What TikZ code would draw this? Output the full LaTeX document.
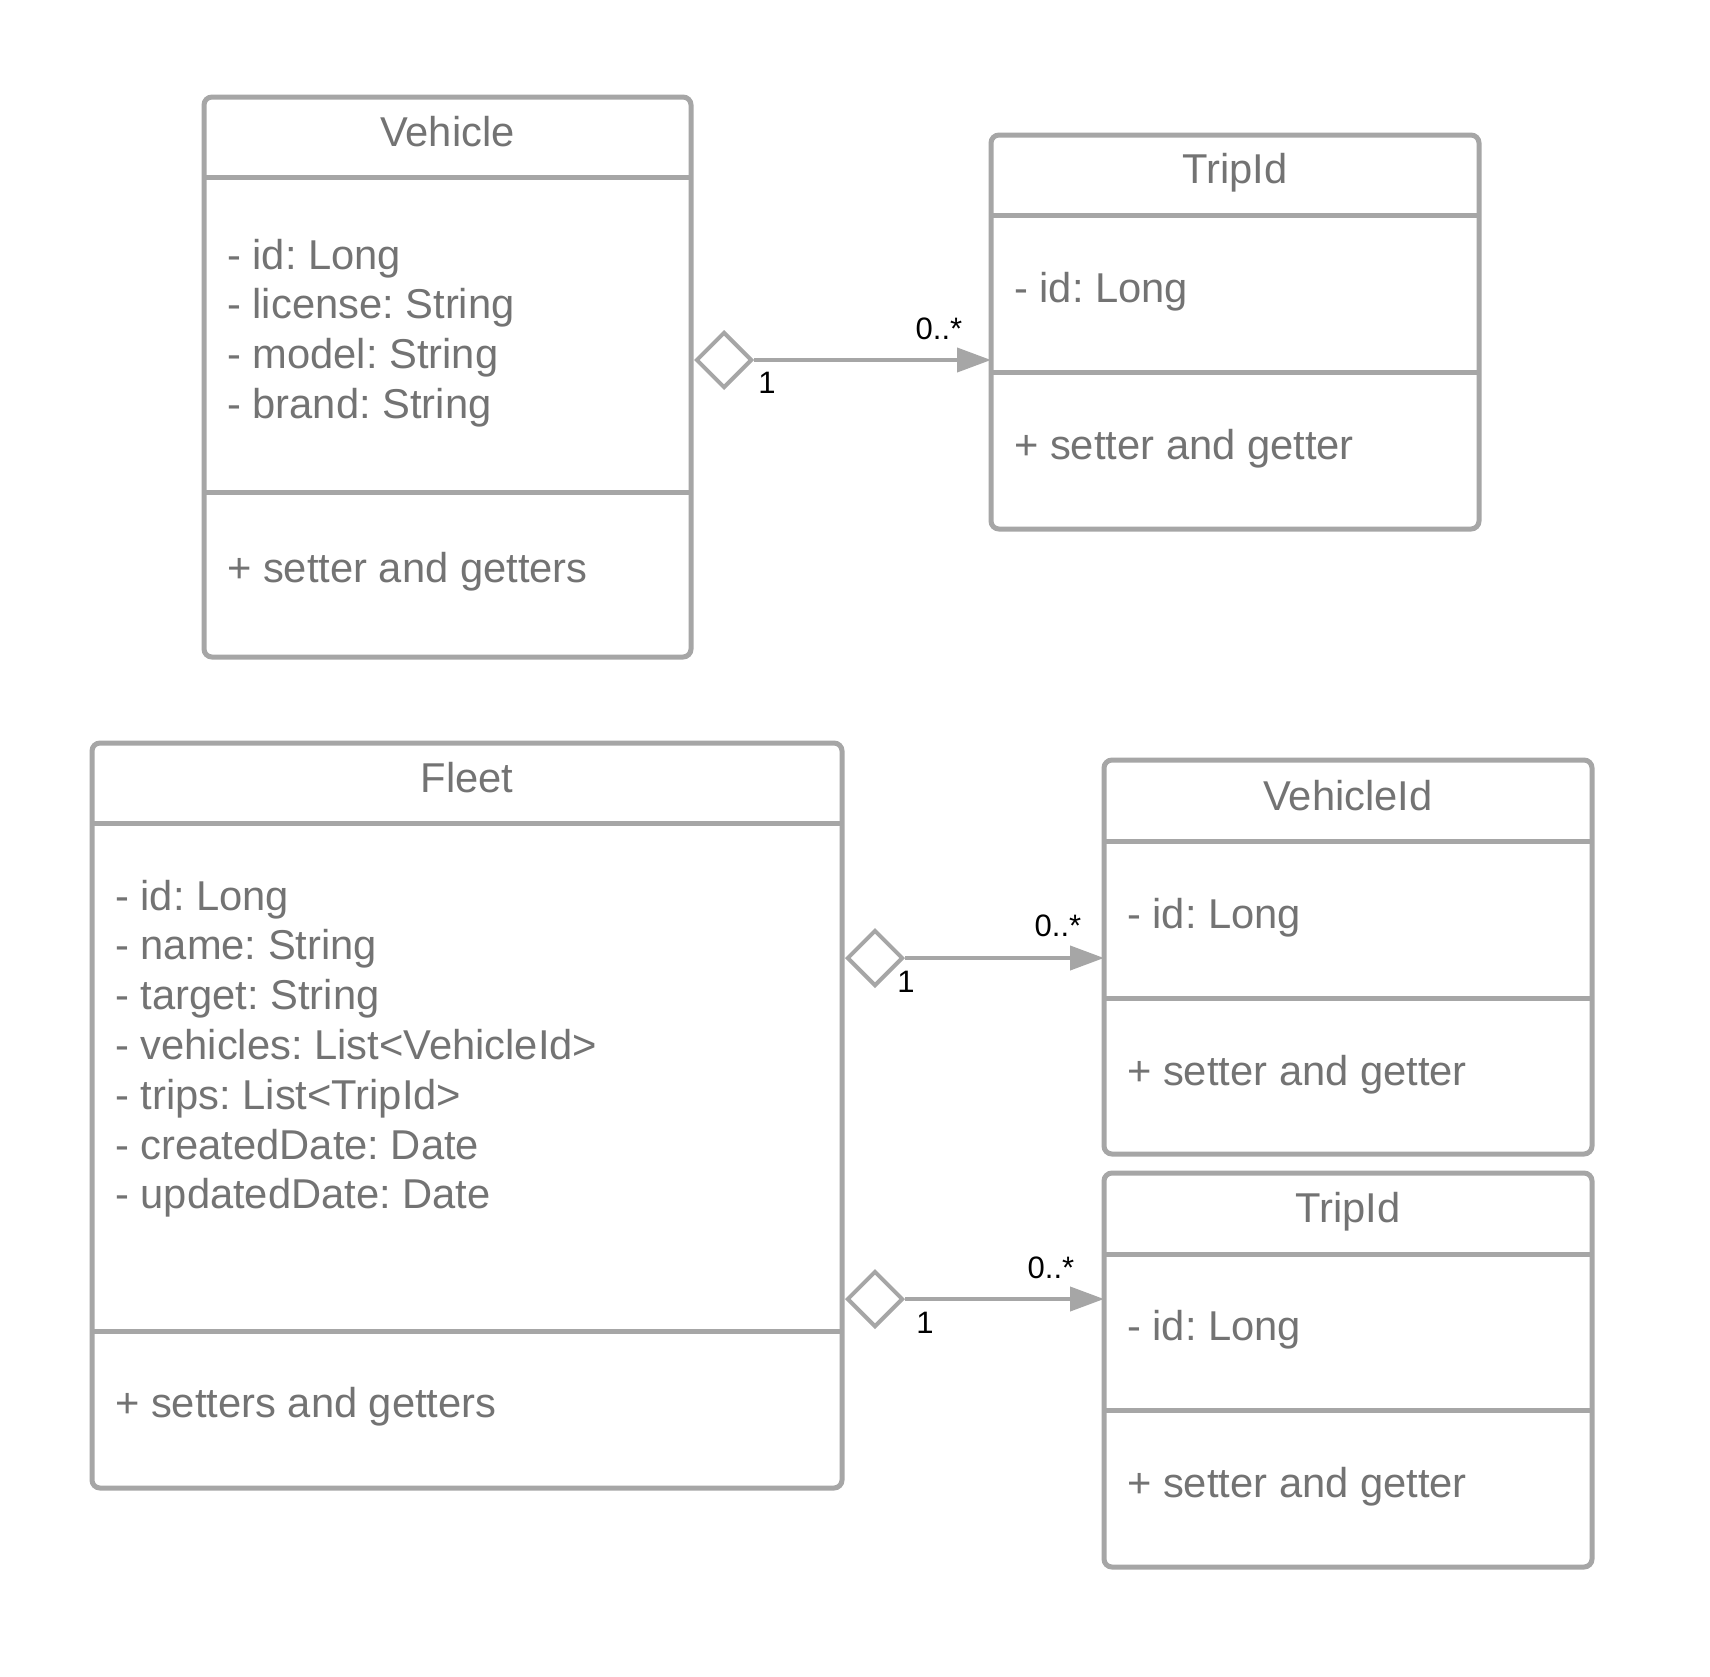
\documentclass[tikz,border=0pt]{standalone}
\usepackage{fontspec}
\setmainfont{Liberation Sans}
\usetikzlibrary{shapes.geometric,arrows.meta}
\definecolor{linegray}{HTML}{A6A6A6}
\definecolor{textgray}{HTML}{737373}
\frenchspacing
\tikzset{
  umlbox/.style={draw=linegray, line width=5pt, rounded corners=8pt, inner sep=0pt},
  sepline/.style={draw=linegray, line width=5pt},
  txt/.style={text=textgray, font=\fontsize{41.7}{49.8}\selectfont, inner sep=0pt, anchor=base west},
  ttl/.style={text=textgray, font=\fontsize{41.7}{49.8}\selectfont, inner sep=0pt, anchor=base},
  agg/.style={diamond, draw=linegray, line width=4pt, fill=white, minimum width=56pt, minimum height=56pt, inner sep=0pt, anchor=west},
  conn/.style={draw=linegray, line width=4pt, -{Triangle[length=34pt,width=24pt]}},
  mult/.style={text=black, font=\fontsize{31}{36}\selectfont, inner sep=0pt},
}
\begin{document}
\begin{tikzpicture}[x=1pt,y=-1pt]
\useasboundingbox (0,0) rectangle (1710,1676);
\fill[white] (0,0) rectangle (1710,1676);

% ---- Vehicle ----
\draw[umlbox] (204,97) rectangle (691,657);
\draw[sepline] (204,177) -- (691,177);
\draw[sepline] (204,492) -- (691,492);
\node[ttl] (vt) at (447.5,146) {Vehicle};
\node[txt] (va1) at (227,269) {- id: Long};
\node[txt] (va2) at (227,318.8) {- license: String};
\node[txt] (va3) at (227,368.6) {- model: String};
\node[txt] (va4) at (227,418.4) {- brand: String};
\node[txt] (vm) at (227,582) {+ setter and getters};
\coordinate (vE) at (691,360);

% ---- TripId (top) ----
\draw[umlbox] (991,135) rectangle (1479,529);
\draw[sepline] (991,215) -- (1479,215);
\draw[sepline] (991,372) -- (1479,372);
\node[ttl] (tt) at (1235,183) {TripId};
\node[txt] (ta) at (1014,302) {- id: Long};
\node[txt] (tm) at (1014,459) {+ setter and getter};
\coordinate (tW) at (991,360);

% ---- Fleet ----
\draw[umlbox] (92,743) rectangle (842,1488);
\draw[sepline] (92,823) -- (842,823);
\draw[sepline] (92,1331) -- (842,1331);
\node[ttl] (ft) at (467,792) {Fleet};
\node[txt] (fa1) at (115,910) {- id: Long};
\node[txt] (fa2) at (115,959.8) {- name: String};
\node[txt] (fa3) at (115,1009.6) {- target: String};
\node[txt] (fa4) at (115,1059.4) {- vehicles: List<VehicleId>};
\node[txt] (fa5) at (115,1109.2) {- trips: List<TripId>};
\node[txt] (fa6) at (115,1159) {- createdDate: Date};
\node[txt] (fa7) at (115,1208.8) {- updatedDate: Date};
\node[txt] (fm) at (115,1417) {+ setters and getters};
\coordinate (fE1) at (842,958);
\coordinate (fE2) at (842,1299);

% ---- VehicleId ----
\draw[umlbox] (1104,760) rectangle (1592,1154);
\draw[sepline] (1104,841) -- (1592,841);
\draw[sepline] (1104,998) -- (1592,998);
\node[ttl] (vit) at (1348,810) {VehicleId};
\node[txt] (via) at (1127,928) {- id: Long};
\node[txt] (vim) at (1127,1085) {+ setter and getter};
\coordinate (viW) at (1104,958);

% ---- TripId (bottom) ----
\draw[umlbox] (1104,1173) rectangle (1592,1567);
\draw[sepline] (1104,1254) -- (1592,1254);
\draw[sepline] (1104,1410) -- (1592,1410);
\node[ttl] (t2t) at (1348,1222) {TripId};
\node[txt] (t2a) at (1127,1340) {- id: Long};
\node[txt] (t2m) at (1127,1497) {+ setter and getter};
\coordinate (t2W) at (1104,1299);

% ---- connectors ----
\node[agg] (d1) at ([xshift=3pt]vE) {};
\draw[conn] (d1.east) -- (tW);
\node[mult] (m1a) at (939,329) {0..*};
\node[mult] (m1b) at (767,383) {1};

\node[agg] (d2) at ([xshift=3pt]fE1) {};
\draw[conn] (d2.east) -- (viW);
\node[mult] (m2a) at (1058,926) {0..*};
\node[mult] (m2b) at (906,982) {1};

\node[agg] (d3) at ([xshift=3pt]fE2) {};
\draw[conn] (d3.east) -- (t2W);
\node[mult] (m3a) at (1051,1268) {0..*};
\node[mult] (m3b) at (925,1323) {1};
\end{tikzpicture}
\end{document}
